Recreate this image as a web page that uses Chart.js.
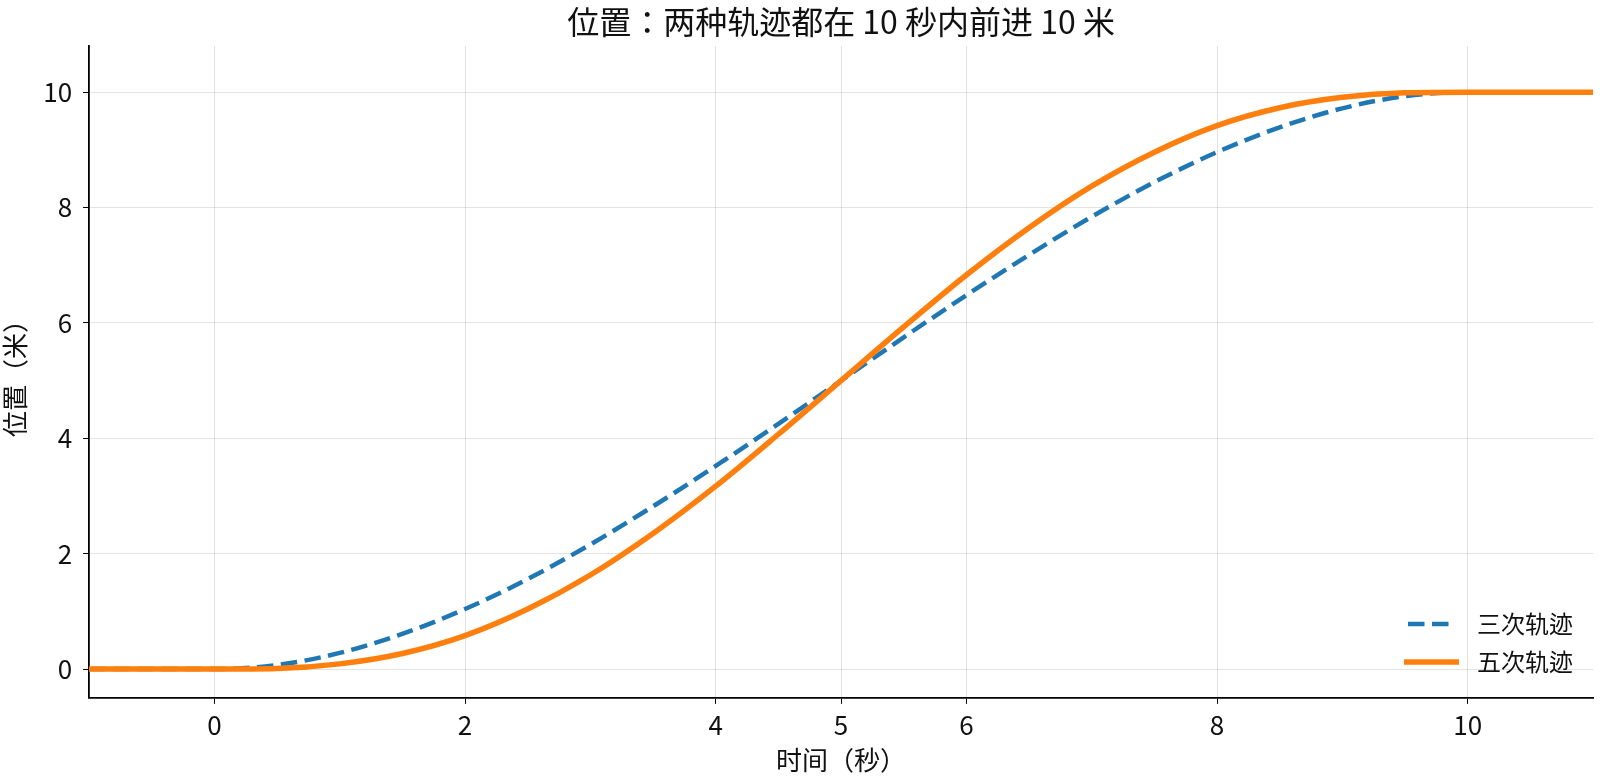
<!DOCTYPE html>
<html>
<head>
<meta charset="utf-8">
<script src="https://cdn.jsdelivr.net/npm/chart.js@4/dist/chart.umd.min.js"></script>
<style>
  html, body { margin: 0; padding: 0; background: #fff; overflow: hidden; }
  #wrap { width: 1600px; height: 783px; position: relative; }
  canvas { display: block; }
</style>
</head>
<body>
<div id="wrap"><canvas id="posChart"></canvas></div>
<script>
// time samples (s)
const times = [-1, -0.5, 0, 0.5, 1, 1.5, 2, 2.5, 3, 3.5, 4, 4.5, 5, 5.5, 6, 6.5, 7, 7.5, 8, 8.5, 9, 9.5, 10, 10.5, 11];
// cubic trajectory position (m)
const cubicPos = [0, 0, 0, 0.07, 0.28, 0.61, 1.04, 1.56, 2.16, 2.82, 3.52, 4.25, 5, 5.75, 6.48, 7.18, 7.84, 8.44, 8.96, 9.39, 9.72, 9.93, 10, 10, 10];
// quintic trajectory position (m)
const quinticPos = [0, 0, 0, 0.01, 0.09, 0.27, 0.58, 1.04, 1.63, 2.35, 3.17, 4.07, 5, 5.93, 6.83, 7.65, 8.37, 8.96, 9.42, 9.73, 9.91, 9.99, 10, 10, 10];
const xTicks = [0, 2, 4, 5, 6, 8, 10];
const yTicks = [0, 2, 4, 6, 8, 10];
const seriesNames = ['三次轨迹', '五次轨迹'];
const chartTitle = '位置：两种轨迹都在 10 秒内前进 10 米';

const FONT = '"Noto Sans CJK JP", "Noto Sans CJK SC", "Noto Sans", sans-serif';

function toPoints(vals) {
    return times.map((t, i) => ({ x: t, y: vals[i] }));
}

// title centred over the plot area, like matplotlib does
const axesTitle = {
    id: 'axesTitle',
    afterDraw(chart) {
        const { ctx, chartArea } = chart;
        ctx.save();
        ctx.fillStyle = '#111';
        ctx.font = '32px ' + FONT;
        ctx.textAlign = 'center';
        ctx.textBaseline = 'middle';
        ctx.fillText(chartTitle, (chartArea.left + chartArea.right) / 2, 22);
        ctx.restore();
    }
};

// legend drawn inside the plot, lower right
const innerLegend = {
    id: 'innerLegend',
    afterDraw(chart) {
        const { ctx, chartArea } = chart;
        const x0 = chartArea.right - 189;
        const rows = [chartArea.bottom - 74, chartArea.bottom - 36];
        chart.data.datasets.forEach((ds, i) => {
            const y = rows[i];
            ctx.save();
            ctx.strokeStyle = ds.borderColor;
            ctx.lineWidth = ds.borderWidth;
            ctx.beginPath();
            if (ds.borderDash) {
                ctx.setLineDash(ds.borderDash);
                ctx.moveTo(x0 + 4, y);
                ctx.lineTo(x0 + 46, y);
            } else {
                ctx.moveTo(x0, y);
                ctx.lineTo(x0 + 55, y);
            }
            ctx.stroke();
            ctx.setLineDash([]);
            ctx.fillStyle = '#111';
            ctx.font = '24px ' + FONT;
            ctx.textBaseline = 'middle';
            ctx.fillText(ds.label, x0 + 73, y);
            ctx.restore();
        });
    }
};

new Chart(document.getElementById('posChart').getContext('2d'), {
    type: 'line',
    data: {
        datasets: [
            {
                label: seriesNames[0],
                data: toPoints(cubicPos),
                borderColor: '#1f77b4',
                borderWidth: 4.5,
                borderDash: [16.5, 7.5],
                pointRadius: 0,
                cubicInterpolationMode: 'monotone',
                order: 2
            },
            {
                label: seriesNames[1],
                data: toPoints(quinticPos),
                borderColor: '#ff7f0e',
                borderWidth: 5.5,
                pointRadius: 0,
                cubicInterpolationMode: 'monotone',
                order: 1
            }
        ]
    },
    options: {
        responsive: true,
        maintainAspectRatio: false,
        animation: false,
        layout: { padding: { left: 0, right: 7, top: 46, bottom: 2 } },
        plugins: {
            legend: { display: false },
            tooltip: { enabled: false },
            title: { display: false }
        },
        scales: {
            x: {
                type: 'linear',
                min: -1,
                max: 11,
                afterBuildTicks: axis => { axis.ticks = xTicks.map(v => ({ value: v })); },
                grid: { color: 'rgba(0,0,0,0.11)', tickColor: '#000', tickLength: 6, lineWidth: 1 },
                border: { color: '#000', width: 1.8 },
                ticks: { color: '#111', font: { family: FONT, size: 26, lineHeight: 1 }, padding: 8.5, maxRotation: 0 },
                title: { display: true, text: '时间（秒）', color: '#111', font: { family: FONT, size: 26, lineHeight: 1 }, padding: { top: 0.5, bottom: 7.6 } }
            },
            y: {
                min: -0.5,
                max: 10.8,
                afterBuildTicks: axis => { axis.ticks = yTicks.map(v => ({ value: v })); },
                grid: { color: 'rgba(0,0,0,0.11)', tickColor: '#000', tickLength: 6, lineWidth: 1 },
                border: { color: '#000', width: 1.8 },
                ticks: { color: '#111', font: { family: FONT, size: 26 }, padding: 11 },
                title: { display: true, text: '位置（米）', color: '#111', font: { family: FONT, size: 26 }, padding: { top: 0, bottom: 1 } }
            }
        }
    },
    plugins: [axesTitle, innerLegend]
});
</script>
</body>
</html>
